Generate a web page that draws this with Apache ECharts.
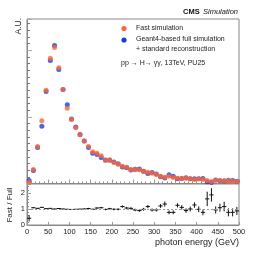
<!DOCTYPE html>
<html><head><meta charset="utf-8">
<script src="https://cdn.jsdelivr.net/npm/echarts@6/dist/echarts.min.js"></script>
<style>html,body{margin:0;padding:0;background:#fff;}#c{width:266px;height:263px;}</style>
</head><body><div id="c"></div>
<script>
// bin centres (GeV), 10 GeV bins
const binCentres = [5,15,25,35,45,55,65,75,85,95,105,115,125,135,145,155,165,175,185,195,205,215,225,235,245,255,265,275,285,295,305,315,325,335,345,355,365,375,385,395,405,415,425,435,445,455,465,475,485,495];
// Fast simulation (A.U.)
const fastSim = [1.3,14,37,62.7,93.3,125.3,136,115.7,94,75.3,64,56,48.7,42.5,37,31.7,30.3,27.7,23,23.7,21,19.3,17.3,16.3,14,13.7,13.7,12,11.3,10.3,9,7.3,6.3,7.3,6,5.3,5.3,5.3,4.7,4,4.7,4,3,2,3.3,3,2.7,2.7,2.3,2];
// Geant4-based full simulation (A.U.)
const fullSim = [3,13,36,57.3,92,123,138,114,94,78.7,64.5,56.5,49,42.5,36,30.3,29,26,23.5,23.3,21.5,19.7,16.5,15.7,13.5,14.3,14.6,12.2,10,11,9.5,6.8,5.5,8.7,7.2,4.7,5,5.7,4.7,4.7,4.8,5,1.8,1.1,3.5,2.8,2.4,3.2,2.9,2.3];
// Fast / Full ratio and its uncertainty
const ratio = [0.42,1.08,1.04,1.10,1.02,1.04,1.00,1.03,1.00,0.98,0.97,0.98,0.99,1.00,1.03,0.98,1.06,1.08,0.97,1.02,0.98,0.98,1.15,1.06,1.04,0.94,0.90,0.98,1.15,0.94,0.94,1.19,1.31,0.79,0.79,1.23,1.10,0.90,1.00,1.25,0.98,0.79,1.63,1.88,0.94,1.08,1.15,0.79,0.79,0.88];
const ratioErr = [0.2,0.04,0.03,0.03,0.02,0.02,0.02,0.02,0.02,0.03,0.03,0.03,0.03,0.04,0.04,0.04,0.05,0.05,0.05,0.05,0.06,0.06,0.07,0.07,0.07,0.08,0.08,0.09,0.1,0.1,0.1,0.12,0.16,0.12,0.12,0.13,0.14,0.14,0.15,0.17,0.18,0.18,0.45,0.42,0.22,0.25,0.3,0.25,0.25,0.25];
const xTicks = [0,50,100,150,200,250,300,350,400,450,500];
const binHalfWidth = 5;

const FONT = '"Liberation Sans", Arial, sans-serif';
const AX = '#888';
const chart = echarts.init(document.getElementById('c'), null, {renderer:'canvas'});
const pair = (xs, ys) => xs.map((x,i)=>[x, ys[i]]);

chart.setOption({
  animation:false,
  backgroundColor:'#fff',
  textStyle:{fontFamily:FONT},
  grid:[
    {left:27, right:27, top:19, height:164.5, show:true, borderColor:AX, borderWidth:1, backgroundColor:'transparent'},
    {left:27, right:27, top:184, height:41, show:true, borderColor:AX, borderWidth:1, backgroundColor:'transparent'}
  ],
  xAxis:[
    {gridIndex:0, type:'value', min:xTicks[0], max:xTicks[xTicks.length-1], interval:50,
     axisLine:{lineStyle:{color:AX}}, axisTick:{inside:true, length:4, lineStyle:{color:'#999'}},
     minorTick:{show:true, splitNumber:5, length:2, lineStyle:{color:'#888'}},
     axisLabel:{show:false}, splitLine:{show:false}},
    {gridIndex:1, type:'value', min:xTicks[0], max:xTicks[xTicks.length-1], interval:50,
     axisLine:{lineStyle:{color:AX}}, axisTick:{inside:true, length:3, lineStyle:{color:'#999'}},
     minorTick:{show:false},
     axisLabel:{fontSize:7.5, color:'#222', margin:3, fontFamily:FONT}, splitLine:{show:false}}
  ],
  yAxis:[
    {gridIndex:0, type:'value', min:0, max:164.5, interval:66.67,
     axisLine:{show:true, lineStyle:{color:AX}}, axisTick:{inside:true, length:5, lineStyle:{color:'#aaa'}},
     minorTick:{show:true, splitNumber:10, length:3, lineStyle:{color:'#777'}},
     axisLabel:{show:false}, splitLine:{show:false}},
    {gridIndex:1, type:'value', min:0, max:2.56, interval:1,
     axisLine:{show:true, lineStyle:{color:AX}}, axisTick:{inside:true, length:4, lineStyle:{color:'#999'}},
     minorTick:{show:true, splitNumber:5, length:2, lineStyle:{color:'#888'}},
     axisLabel:{fontSize:7.5, color:'#222', margin:2, fontFamily:FONT,
       formatter:v => Number.isInteger(v) ? String(v) : ''},
     splitLine:{show:false}}
  ],
  series:[
    {name:'full', type:'scatter', xAxisIndex:0, yAxisIndex:0, data:pair(binCentres, fullSim),
     symbol:'circle', symbolSize:5, itemStyle:{color:'#1540d8'}, silent:true},
    {name:'fast', type:'scatter', xAxisIndex:0, yAxisIndex:0, data:pair(binCentres, fastSim),
     symbol:'circle', symbolSize:5, itemStyle:{color:'#ff6633'}, silent:true},
    {type:'custom', xAxisIndex:1, yAxisIndex:1,
     data:binCentres.map((x,i)=>[x, ratio[i], ratioErr[i]]),
     renderItem:(params, api)=>{
       const x = api.value(0), y = api.value(1), e = api.value(2);
       const lo = api.coord([x, y-e]), hi = api.coord([x, y+e]);
       const l = api.coord([x-binHalfWidth, y]), r = api.coord([x+binHalfWidth, y]);
       const st = {stroke:'#111', lineWidth:1};
       return {type:'group', children:[
         {type:'line', shape:{x1:lo[0], y1:lo[1], x2:hi[0], y2:hi[1]}, style:st},
         {type:'line', shape:{x1:l[0], y1:l[1], x2:r[0], y2:r[1]}, style:st}
       ]};
     },
     markLine:{silent:true, symbol:'none', label:{show:false},
       lineStyle:{color:'#999', type:[2,2], width:1}, data:[{yAxis:1}]}
    }
  ],
  graphic:[
    {type:'text', style:{x:238, y:12, textAlign:'right', textVerticalAlign:'middle',
      text:'{b|CMS} {i|Simulation}',
      rich:{b:{fontWeight:'bold', fontSize:7.5, fontFamily:FONT, fill:'#111'},
            i:{fontStyle:'italic', fontSize:7.5, fontFamily:FONT, fill:'#111'}}}},
    {type:'circle', shape:{cx:124, cy:28.5, r:2.6}, style:{fill:'#ff6633'}},
    {type:'circle', shape:{cx:124, cy:40, r:2.6}, style:{fill:'#1540d8'}},
    {type:'text', style:{x:136, y:28, text:'Fast simulation', font:'7px '+FONT, fill:'#222', textVerticalAlign:'middle'}},
    {type:'text', style:{x:136, y:39.5, text:'Geant4-based full simulation', font:'7px '+FONT, fill:'#222', textVerticalAlign:'middle'}},
    {type:'text', style:{x:136, y:49, text:'+ standard reconstruction', font:'7px '+FONT, fill:'#222', textVerticalAlign:'middle'}},
    {type:'text', style:{x:121, y:63, text:'pp \u2192 H\u2192 \u03b3\u03b3, 13TeV, PU25', font:'7px '+FONT, fill:'#222', textVerticalAlign:'middle'}},
    {type:'text', rotation:Math.PI/2, x:18.5, y:18, style:{x:0, y:0, text:'A.U.', font:'8.5px '+FONT, fill:'#222', textAlign:'right', textVerticalAlign:'middle'}},
    {type:'text', rotation:Math.PI/2, x:9.5, y:205, style:{x:0, y:0, text:'Fast / Full', font:'8px '+FONT, fill:'#222', textAlign:'center', textVerticalAlign:'middle'}},
    {type:'text', style:{x:239, y:243, text:'photon energy (GeV)', font:'9px '+FONT, fill:'#222', textAlign:'right', textVerticalAlign:'middle'}}
  ]
});
</script></body></html>
